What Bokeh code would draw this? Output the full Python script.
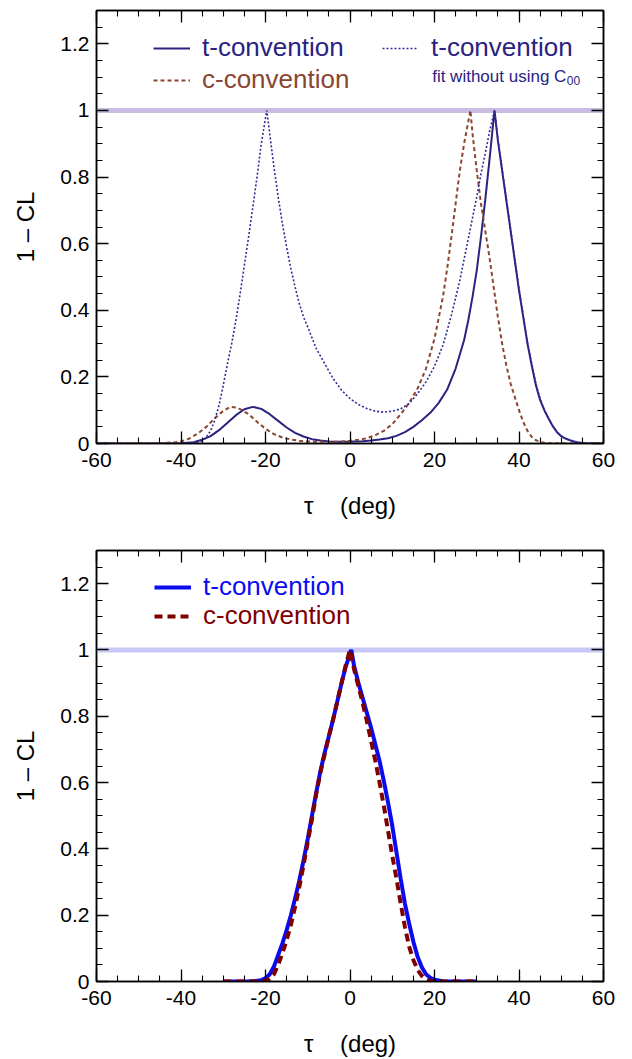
from bokeh.plotting import figure
from bokeh.models import (Range1d, FixedTicker, LinearAxis, Span, Legend, LegendItem,
                          Label, CustomJSTickFormatter)
from bokeh.layouts import column
from bokeh.embed import file_html
from bokeh.resources import INLINE

FONT = "Liberation Sans"

# ---------------- data ----------------
x_ticks = [-60, -40, -20, 0, 20, 40, 60]
x_tick_labels = ["-60", "-40", "-20", "0", "20", "40", "60"]
x_minor = [-60 + 5 * i for i in range(25)]
y_ticks = [0, 0.2, 0.4, 0.6, 0.8, 1.0, 1.2]
y_tick_labels = ["0", "0.2", "0.4", "0.6", "0.8", "1", "1.2"]
y_minor = [round(0.05 * i, 2) for i in range(27)]
ref_level = 1.0

# top panel: t-convention (solid)
top_t_x = [-60, -45, -40, -37, -35, -33, -31, -29, -27, -25, -23, -21, -19, -17, -15, -13, -11, -9, -7, -5,
           -3, -1, 1, 3, 5, 7, 9, 11, 13, 15, 17, 19, 21, 23, 25, 27, 28, 29, 30, 31, 32, 33, 34.2,
           35, 36, 37, 38, 39, 40, 41, 42, 43, 44, 45, 46, 47, 48, 49, 50, 51, 52, 53, 54, 56, 60]
top_t_y = [0, 0, 0.001, 0.004, 0.011, 0.022, 0.040, 0.062, 0.085, 0.103, 0.110, 0.104, 0.088, 0.068, 0.048,
           0.032, 0.021, 0.013, 0.009, 0.006, 0.005, 0.005, 0.006, 0.007, 0.009, 0.012, 0.016, 0.023, 0.034,
           0.050, 0.070, 0.092, 0.122, 0.162, 0.225, 0.31, 0.37, 0.44, 0.52, 0.62, 0.73, 0.85, 1.0,
           0.91, 0.82, 0.73, 0.64, 0.55, 0.46, 0.38, 0.30, 0.235, 0.175, 0.13, 0.10, 0.075, 0.052, 0.034,
           0.022, 0.015, 0.010, 0.006, 0.003, 0.001, 0]

# top panel: c-convention (dashed)
top_c_x = [-60, -45, -42, -40, -38, -36, -34, -32, -30, -28.3, -27, -26, -24, -22, -20, -18, -16, -14, -12,
           -10, -8, -6, -4, -2, 0, 2, 4, 6, 8, 10, 12, 14, 16, 18, 20, 22, 23, 24, 25, 26, 27, 28.5,
           29, 30, 31, 32, 33, 34, 35, 36, 37, 38, 39, 40, 41, 42, 43, 44, 45, 46, 48, 60]
top_c_y = [0, 0.001, 0.003, 0.006, 0.015, 0.030, 0.050, 0.076, 0.098, 0.110, 0.108, 0.103, 0.088, 0.065,
           0.044, 0.028, 0.018, 0.012, 0.008, 0.006, 0.005, 0.005, 0.005, 0.006, 0.008, 0.011, 0.016, 0.025,
           0.038, 0.058, 0.088, 0.122, 0.165, 0.225, 0.315, 0.44, 0.525, 0.62, 0.72, 0.82, 0.90, 1.0,
           0.93, 0.82, 0.72, 0.64, 0.56, 0.47, 0.38, 0.30, 0.235, 0.18, 0.14, 0.10, 0.065, 0.038, 0.02,
           0.01, 0.005, 0.002, 0.0005, 0]

# top panel: t-convention, fit without using C00 (dotted)
top_n_x = [-60, -40, -37, -35, -34, -33, -32, -31, -30, -29, -28, -27, -26, -25, -24, -23, -22, -21, -19.7,
           -19, -18, -17, -16, -15, -14, -13, -12, -11, -10, -8, -6, -4, -2, 0, 2, 4, 6, 8, 10, 12, 14, 16,
           18, 20, 22, 24, 26, 28, 30, 31, 32, 33, 34.2, 35, 36, 37, 38, 39, 40, 41, 42, 43, 44, 45, 46,
           47, 48, 49, 50, 51, 52, 53, 54, 56, 60]
top_n_y = [0, 0, 0.001, 0.008, 0.020, 0.038, 0.070, 0.115, 0.175, 0.24, 0.30, 0.37, 0.45, 0.535, 0.62,
           0.71, 0.80, 0.90, 1.0, 0.93, 0.83, 0.74, 0.66, 0.59, 0.525, 0.47, 0.42, 0.38, 0.35, 0.285, 0.24,
           0.195, 0.16, 0.135, 0.117, 0.105, 0.097, 0.094, 0.097, 0.104, 0.12, 0.15, 0.185, 0.232, 0.295,
           0.385, 0.49, 0.615, 0.74, 0.81, 0.87, 0.935, 1.0, 0.915, 0.825, 0.735, 0.645, 0.555, 0.465,
           0.385, 0.305, 0.24, 0.18, 0.135, 0.10, 0.075, 0.052, 0.034, 0.022, 0.015, 0.010, 0.006, 0.003,
           0.001, 0]

# bottom panel: t-convention (solid)
bot_t_x = [-30, -24, -22, -21, -20, -19, -18, -17, -16, -15, -14, -13, -12, -11, -10, -9, -8, -7, -6, -5,
           -4, -3, -2, -1, 0.3, 1, 2, 3, 4, 5, 6, 7, 8, 9, 10, 11, 12, 13, 14, 15, 16, 17, 18, 19, 20, 22,
           24, 30]
bot_t_y = [0, 0, 0.002, 0.004, 0.010, 0.022, 0.045, 0.08, 0.115, 0.155, 0.20, 0.25, 0.305, 0.365, 0.43,
           0.50, 0.57, 0.635, 0.69, 0.74, 0.79, 0.845, 0.90, 0.95, 1.0, 0.95, 0.90, 0.855, 0.81, 0.765,
           0.715, 0.665, 0.605, 0.54, 0.47, 0.39, 0.31, 0.235, 0.175, 0.12, 0.075, 0.043, 0.022, 0.011,
           0.005, 0.001, 0, 0]

# bottom panel: c-convention (dashed)
bot_c_x = [-30, -22, -20, -19, -18, -17, -16, -15, -14, -13, -12, -11, -10, -9, -8, -7, -6, -5, -4, -3,
           -2, -1, 0, 1, 2, 3, 4, 5, 6, 7, 8, 9, 10, 11, 12, 13, 14, 15, 16, 17, 18, 19, 20, 30]
bot_c_y = [0, 0, 0.002, 0.008, 0.022, 0.05, 0.085, 0.125, 0.17, 0.225, 0.285, 0.35, 0.42, 0.49, 0.565,
           0.63, 0.685, 0.74, 0.79, 0.845, 0.90, 0.955, 1.0, 0.94, 0.89, 0.84, 0.785, 0.725, 0.665, 0.60,
           0.53, 0.455, 0.38, 0.31, 0.235, 0.165, 0.105, 0.065, 0.035, 0.017, 0.006, 0.001, 0, 0]

NAVY = "#2a237f"
NAVY_DOT = "#302c96"
BROWN = "#8a4630"
BLUE = "#0b0bf0"
DARKRED = "#800000"


def make_fig(height, border_top, border_bottom):
    p = figure(width=618, height=height, output_backend="svg", toolbar_location=None,
               x_range=Range1d(-60, 60), y_range=Range1d(0, 1.3),
               min_border_left=96, min_border_right=15,
               min_border_top=border_top, min_border_bottom=border_bottom)
    p.xgrid.grid_line_color = None
    p.ygrid.grid_line_color = None
    p.outline_line_color = "black"
    p.outline_line_width = 1.5
    p.background_fill_color = "white"
    p.border_fill_color = "white"

    xt = FixedTicker(ticks=x_ticks, minor_ticks=x_minor)
    yt = FixedTicker(ticks=y_ticks, minor_ticks=y_minor)
    xf = CustomJSTickFormatter(args=dict(vals=x_ticks, labs=x_tick_labels), code="""
        for (let i = 0; i < vals.length; i++) { if (Math.abs(vals[i] - tick) < 1e-6) return labs[i]; }
        return '';""")
    yf = CustomJSTickFormatter(args=dict(vals=y_ticks, labs=y_tick_labels), code="""
        for (let i = 0; i < vals.length; i++) { if (Math.abs(vals[i] - tick) < 1e-6) return labs[i]; }
        return '';""")
    empty = CustomJSTickFormatter(code="return '';")

    for ax, tk, fm in ((p.xaxis[0], xt, xf), (p.yaxis[0], yt, yf)):
        ax.ticker = tk
        ax.formatter = fm
        ax.major_tick_in = 12
        ax.major_tick_out = 0
        ax.minor_tick_in = 6
        ax.minor_tick_out = 0
        ax.axis_line_width = 1.5
        ax.major_tick_line_width = 1.3
        ax.minor_tick_line_width = 1.1
        ax.major_label_text_font = FONT
        ax.major_label_text_font_size = "21px"
        ax.major_label_text_color = "black"
        ax.axis_label_text_font = FONT
        ax.axis_label_text_font_size = "24px"
        ax.axis_label_text_font_style = "normal"
        ax.axis_label_text_color = "black"
    p.xaxis[0].major_label_standoff = 9
    p.yaxis[0].major_label_standoff = 7
    p.xaxis[0].axis_label = "\u03c4 \u00a0\u00a0\u00a0(deg)"
    p.yaxis[0].axis_label = "1 \u2013 CL"
    p.xaxis[0].axis_label_standoff = 22
    p.yaxis[0].axis_label_standoff = 18

    for place, tk in (("above", xt), ("right", yt)):
        ax = LinearAxis(ticker=tk, formatter=empty)
        ax.major_tick_in = 12
        ax.major_tick_out = 0
        ax.minor_tick_in = 6
        ax.minor_tick_out = 0
        ax.major_label_standoff = 0
        ax.major_label_text_font_size = "0px"
        ax.axis_line_width = 1.5
        ax.major_tick_line_width = 1.3
        ax.minor_tick_line_width = 1.1
        p.add_layout(ax, place)
    return p


def add_legend(p, renderer, text, color, x, y, size="26px", glyph_w=37, standoff=12):
    lg = Legend(items=[LegendItem(label=text, renderers=[renderer])], location=(x, y),
                padding=0, margin=0, spacing=0, glyph_width=glyph_w, glyph_height=20,
                label_standoff=standoff, label_text_font=FONT, label_text_font_size=size,
                label_text_color=color, border_line_alpha=0, background_fill_alpha=0)
    p.add_layout(lg)


# ---------------- top panel ----------------
p1 = make_fig(538, 10, 95)
p1.add_layout(Span(location=ref_level, dimension="width", line_color="#c8bce2", line_width=5,
                   level="underlay"))
r_t = p1.line(top_t_x, top_t_y, line_color=NAVY, line_width=2)
r_c = p1.line(top_c_x, top_c_y, line_color=BROWN, line_width=2, line_dash="4 3")
r_n = p1.line(top_n_x, top_n_y, line_color=NAVY_DOT, line_width=1.6, line_dash="2 2")
add_legend(p1, r_t, "t-convention", NAVY, 57, 380)
add_legend(p1, r_c, "c-convention", BROWN, 57, 348)
add_legend(p1, r_n, "t-convention", NAVY, 286, 380, glyph_w=35, standoff=14)
p1.add_layout(Label(x=19.45, y=1.103, text="fit without using C", text_font=FONT,
                    text_font_size="17px", text_color=NAVY, text_baseline="alphabetic"))
p1.add_layout(Label(x=51.3, y=1.09, text="00", text_font=FONT,
                    text_font_size="12px", text_color=NAVY, text_baseline="alphabetic"))

# ---------------- bottom panel ----------------
p2 = make_fig(521, 12, 76)
p2.add_layout(Span(location=ref_level, dimension="width", line_color="#c8c8f6", line_width=5,
                   level="underlay"))
r_bt = p2.line(bot_t_x, bot_t_y, line_color=BLUE, line_width=4)
r_bc = p2.line(bot_c_x, bot_c_y, line_color=DARKRED, line_width=4, line_dash="8 5")
add_legend(p2, r_bt, "t-convention", BLUE, 58, 379)
add_legend(p2, r_bc, "c-convention", DARKRED, 58, 350)

layout = column(p1, p2, spacing=0)
open("out.html", "w").write(file_html(layout, INLINE))
